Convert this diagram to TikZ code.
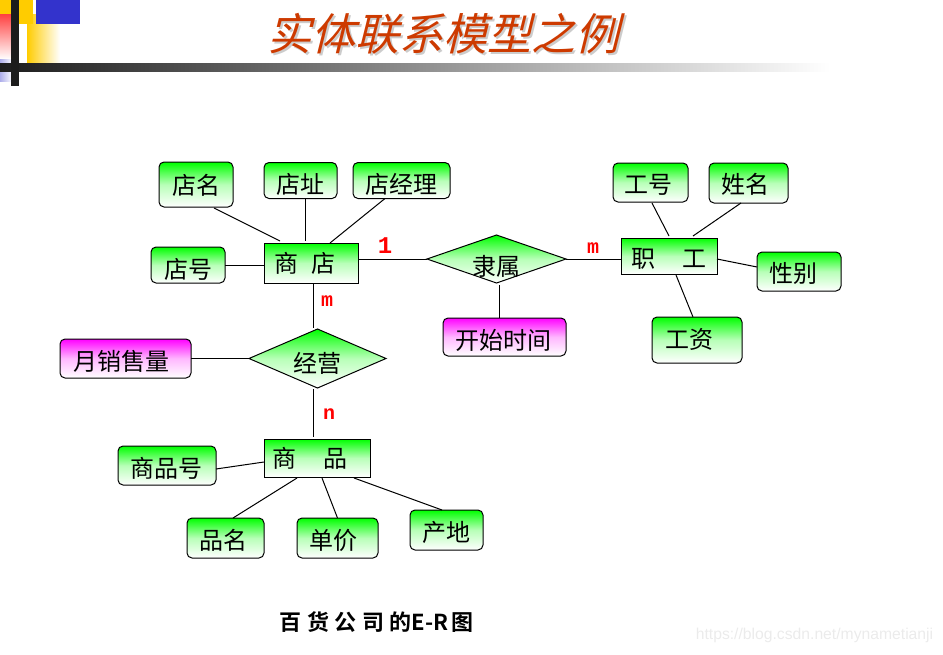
\documentclass[tikz,border=0pt]{standalone}
\usepackage{fontspec}
\setmainfont{Noto Sans CJK SC}
\newfontfamily\titlefont[FakeSlant=0.25]{Noto Sans CJK SC}
\newfontfamily\capfont[LetterSpace=25]{Noto Sans CJK SC Bold}
\newfontfamily\capfontb{Noto Sans CJK SC Bold}
\newfontfamily\cardfont{Liberation Mono Bold}
\newfontfamily\wmfont{Liberation Sans}
\usetikzlibrary{shapes.geometric}
\definecolor{titlered}{RGB}{205,58,0}
\definecolor{decoyellow}{RGB}{255,204,0}
\definecolor{decoblue}{RGB}{51,51,204}
\definecolor{barblack}{RGB}{28,28,28}
\newcommand{\tx}[3]{\raisebox{#2pt}{\hspace*{#1pt}#3\hspace*{-#1pt}}}
\tikzset{
  base/.style={draw=black,line width=1pt,inner sep=0pt,outer sep=0pt,text height=20pt,text depth=4pt,font=\fontsize{24}{24}\selectfont},
  attrib/.style={base,rounded corners=5pt,top color=green,bottom color=white,middle color=green!28!white},
  attribm/.style={base,rounded corners=5pt,top color=magenta,bottom color=white,middle color=magenta!28!white},
  entity/.style={base,rectangle,top color=green,bottom color=white,middle color=green!28!white},
  relship/.style={base,diamond,aspect=2.9,top color=green,bottom color=white,middle color=green!28!white},
  card/.style={text=red,inner sep=0pt,font=\cardfont\fontsize{20}{20}\selectfont},
  link/.style={line width=1pt,black}
}
\begin{document}
\begin{tikzpicture}[x=1pt,y=-1pt]
\useasboundingbox (0,0) rectangle (943,654);
% slide decoration
\shade[left color=decoyellow,right color=white] (27,14) rectangle (60,63);
\fill[decoyellow] (0,0) rectangle (33,14);
\fill[decoyellow] (19,0) rectangle (33,24);
\fill[decoblue] (36,0) rectangle (80,24);
\shade[top color=red!75,bottom color=white] (0,14) rectangle (11,59);
\shade[left color=decoblue!40,right color=decoblue!5] (0,59) rectangle (11,81);
\shade[left color=barblack,right color=white] (0,63) rectangle (830,71);
\fill[barblack] (11,0) rectangle (19,86);
% title
\node[text=black!20,font=\titlefont\fontsize{44}{44}\selectfont] (titleshadow) at (445,36) {实体联系模型之例};
\node[text=titlered,font=\titlefont\fontsize{44}{44}\selectfont] (title) at (443,34) {实体联系模型之例};
% shop
\node[entity,minimum width=94,minimum height=40] (shangdian) at (311,263) {\tx{-6}{-1}{商\hspace{14pt}店}};
\node[attrib,minimum width=74,minimum height=45] (dianming) at (196,184.5) {\tx{0}{-1.5}{店名}};
\node[attrib,minimum width=73,minimum height=36] (dianzhi) at (300.5,180.5) {\tx{0}{-5}{店址}};
\node[attrib,minimum width=97,minimum height=36] (dianjingli) at (401.5,180.5) {\tx{0}{-5}{店经理}};
\node[attrib,minimum width=74,minimum height=36] (dianhao) at (188,265) {\tx{0}{-5.5}{店号}};
% relation shop - staff
\node[relship,minimum width=139,minimum height=48] (lishu) at (496.5,259) {\tx{0}{-8}{隶属}};
\node[attribm,minimum width=123,minimum height=38] (kaishi) at (504.5,337) {\tx{-1.5}{-4}{开始时间}};
% staff
\node[entity,minimum width=96,minimum height=36] (zhigong) at (669,256) {\tx{0}{-3}{职\hspace{28pt}工}};
\node[attrib,minimum width=75,minimum height=39] (gonghao) at (650.5,182.5) {\tx{-2.5}{-2.5}{工号}};
\node[attrib,minimum width=79,minimum height=40] (xingming) at (748.5,183) {\tx{-3.5}{-2}{姓名}};
\node[attrib,minimum width=84,minimum height=39] (xingbie) at (799,271.5) {\tx{-6}{-2.5}{性别}};
\node[attrib,minimum width=90,minimum height=46] (gongzi) at (697,340) {\tx{-8}{0}{工资}};
% relation shop - goods
\node[relship,minimum width=137,minimum height=59] (jingying) at (317.5,358.5) {\tx{0}{-6}{经营}};
\node[attribm,minimum width=131,minimum height=39] (yuexiao) at (125.5,358.5) {\tx{-4.5}{-3.5}{月销售量}};
% goods
\node[entity,minimum width=106,minimum height=38] (shangpin) at (317,458) {\tx{-7}{-1}{商\hspace{28pt}品}};
\node[attrib,minimum width=98,minimum height=39] (pinhao) at (167,465.5) {\tx{-1}{-3.5}{商品号}};
\node[attrib,minimum width=77,minimum height=40] (pinming) at (225.5,538) {\tx{-2.5}{-3}{品名}};
\node[attrib,minimum width=81,minimum height=40] (danjia) at (337.5,538) {\tx{-4.5}{-3}{单价}};
\node[attrib,minimum width=73,minimum height=40] (chandi) at (446.5,530) {\tx{0}{-3}{产地}};
% connectors
\draw[link] ([xshift=18pt,yshift=-1pt]dianming.south) -- ([xshift=-31pt,yshift=2pt]shangdian.north);
\draw[link] ([xshift=5pt]dianzhi.south) -- ([xshift=-5.5pt,yshift=2pt]shangdian.north);
\draw[link] ([xshift=-16.5pt]dianjingli.south) -- ([xshift=19pt]shangdian.north);
\draw[link] (dianhao.east) -- (shangdian.west |- dianhao.east);
\draw[link] (shangdian.east |- lishu.west) -- (lishu.west);
\draw[link] (lishu.east) -- (zhigong.west |- lishu.east);
\draw[link] ([xshift=2.5pt,yshift=-2pt]lishu.south) -- ([xshift=-5.5pt]kaishi.north);
\draw[link] ([xshift=2pt]shangdian.south) -- ([xshift=-4.5pt,yshift=1.5pt]jingying.north);
\draw[link] ([xshift=-4.5pt,yshift=-1pt]jingying.south) -- ([xshift=-4pt,yshift=2pt]shangpin.north);
\draw[link] (yuexiao.east) -- (jingying.west);
\draw[link] ([yshift=-3.5pt]pinhao.east) -- ([yshift=-4pt]shangpin.west);
\draw[link] ([xshift=7.5pt]pinming.north) -- ([xshift=-20pt,yshift=-1pt]shangpin.south);
\draw[link] (danjia.north) -- ([xshift=5pt,yshift=-1pt]shangpin.south);
\draw[link] ([xshift=-4.5pt]chandi.north) -- ([xshift=37pt,yshift=-1pt]shangpin.south);
\draw[link] ([xshift=1.5pt,yshift=-1pt]gonghao.south) -- ([yshift=2pt]zhigong.north);
\draw[link] ([xshift=-7.5pt]xingming.south) -- ([xshift=24pt,yshift=2pt]zhigong.north);
\draw[link] ([yshift=-3pt]zhigong.east) -- ([yshift=4.5pt]xingbie.west);
\draw[link] ([xshift=7pt,yshift=-1pt]zhigong.south) -- ([xshift=-4pt]gongzi.north);
% cardinality
\node[card,font=\cardfont\fontsize{24}{24}\selectfont] (cardone) at (385,246) {1};
\node[card] (cardm) at (327,301) {m};
\node[card] (cardmm) at (593,248) {m};
\node[card] (cardn) at (329,414) {n};
% caption and site mark
\node[font=\fontsize{22}{22}\selectfont,inner sep=0pt] (caption) at (376.5,622) {{\capfont 百货公司的}{\capfontb E-R}\hspace{3pt}{\capfontb 图}};
\node[text=black!8,font=\wmfont\fontsize{15.7}{15.7}\selectfont,inner sep=0pt] (sitemark) at (814.5,635) {https://blog.csdn.net/mynametianji};
\end{tikzpicture}
\end{document}
